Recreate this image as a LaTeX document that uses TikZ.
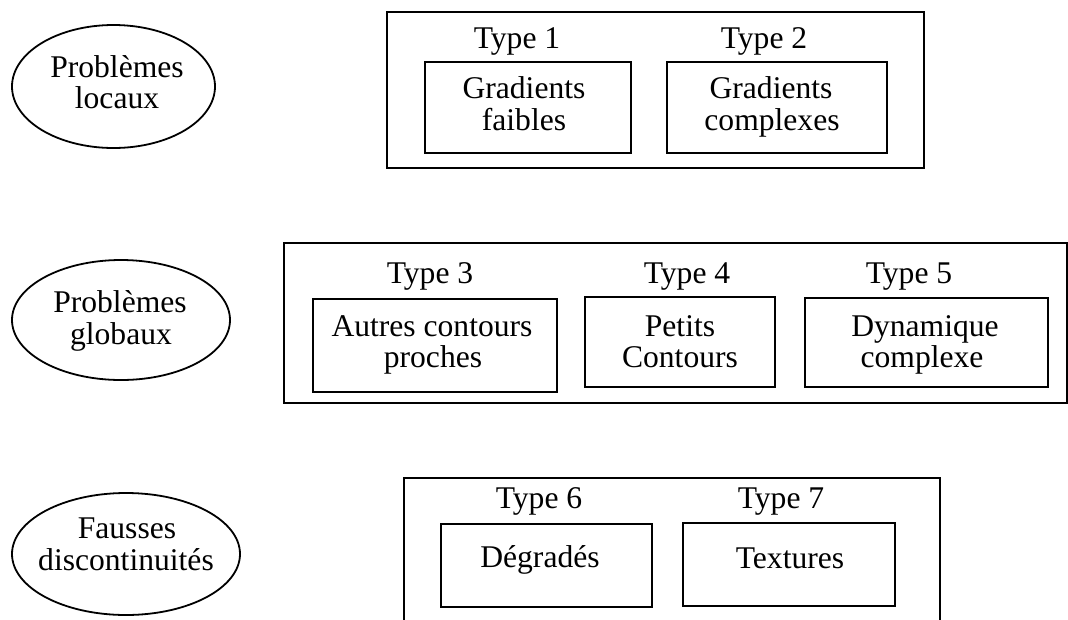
\documentclass[tikz,border=0pt]{standalone}
\usepackage{fontspec}
\setmainfont{Liberation Serif}
\usetikzlibrary{shapes.geometric}
\tikzset{
  frame/.style={draw, rectangle, line width=1.8pt, inner sep=0pt},
  cat/.style={draw, ellipse, line width=1.8pt, inner sep=0pt},
  txt/.style={anchor=base, inner sep=0pt, font=\fontsize{31.6}{31.6}\selectfont}
}
\begin{document}
\begin{tikzpicture}[x=1pt, y=-1pt]
\useasboundingbox (0,0) rectangle (1068,619);
\clip (0,0) rectangle (1068,619);
% ellipses
\node[cat, minimum width=203pt, minimum height=123pt] (e1) at (113.5,86.5) {};
\node[cat, minimum width=218pt, minimum height=120pt] (e2) at (121,320) {};
\node[cat, minimum width=228pt, minimum height=122pt] (e3) at (126,554) {};
\node[txt] (e1a) at (117,77) {Problèmes};
\node[txt] (e1b) at (117,108) {locaux};
\node[txt] (e2a) at (120,312) {Problèmes};
\node[txt] (e2b) at (121,344) {globaux};
\node[txt] (e3a) at (127,538) {Fausses};
\node[txt] (e3b) at (126,570) {discontinuités};
% top group
\node[frame, minimum width=537pt, minimum height=156pt] (g1) at (655.5,90) {};
\node[frame, minimum width=206pt, minimum height=91pt] (b1) at (528,107.5) {};
\node[frame, minimum width=220pt, minimum height=91pt] (b2) at (777,107.5) {};
\node[txt] (t1) at (517,48) {Type 1};
\node[txt] (t2) at (764,48) {Type 2};
\node[txt] (b1a) at (524,98) {Gradients};
\node[txt] (b1b) at (524,130) {faibles};
\node[txt] (b2a) at (771,98) {Gradients};
\node[txt] (b2b) at (772,130) {complexes};
% middle group
\node[frame, minimum width=783pt, minimum height=160pt] (g2) at (675.5,323) {};
\node[frame, minimum width=244pt, minimum height=93pt] (b3) at (435,345.5) {};
\node[frame, minimum width=190pt, minimum height=90pt] (b4) at (680,342) {};
\node[frame, minimum width=243pt, minimum height=89pt] (b5) at (926.5,342.5) {};
\node[txt] (t3) at (430,283) {Type 3};
\node[txt] (t4) at (687,283) {Type 4};
\node[txt] (t5) at (909,283) {Type 5};
\node[txt] (b3a) at (432,336) {Autres contours};
\node[txt] (b3b) at (433,367) {proches};
\node[txt] (b4a) at (680,336) {Petits};
\node[txt] (b4b) at (680,367) {Contours};
\node[txt] (b5a) at (925,336) {Dynamique};
\node[txt] (b5b) at (922,367) {complexe};
% bottom group
\node[frame, minimum width=536pt, minimum height=162pt] (g3) at (672,559) {};
\node[frame, minimum width=211pt, minimum height=83pt] (b6) at (546.5,565.5) {};
\node[frame, minimum width=212pt, minimum height=83pt] (b7) at (789,564.5) {};
\node[txt] (t6) at (539,508) {Type 6};
\node[txt] (t7) at (781,508) {Type 7};
\node[txt] (b6a) at (540,567) {Dégradés};
\node[txt] (b7a) at (790,568) {Textures};
\end{tikzpicture}
\end{document}
